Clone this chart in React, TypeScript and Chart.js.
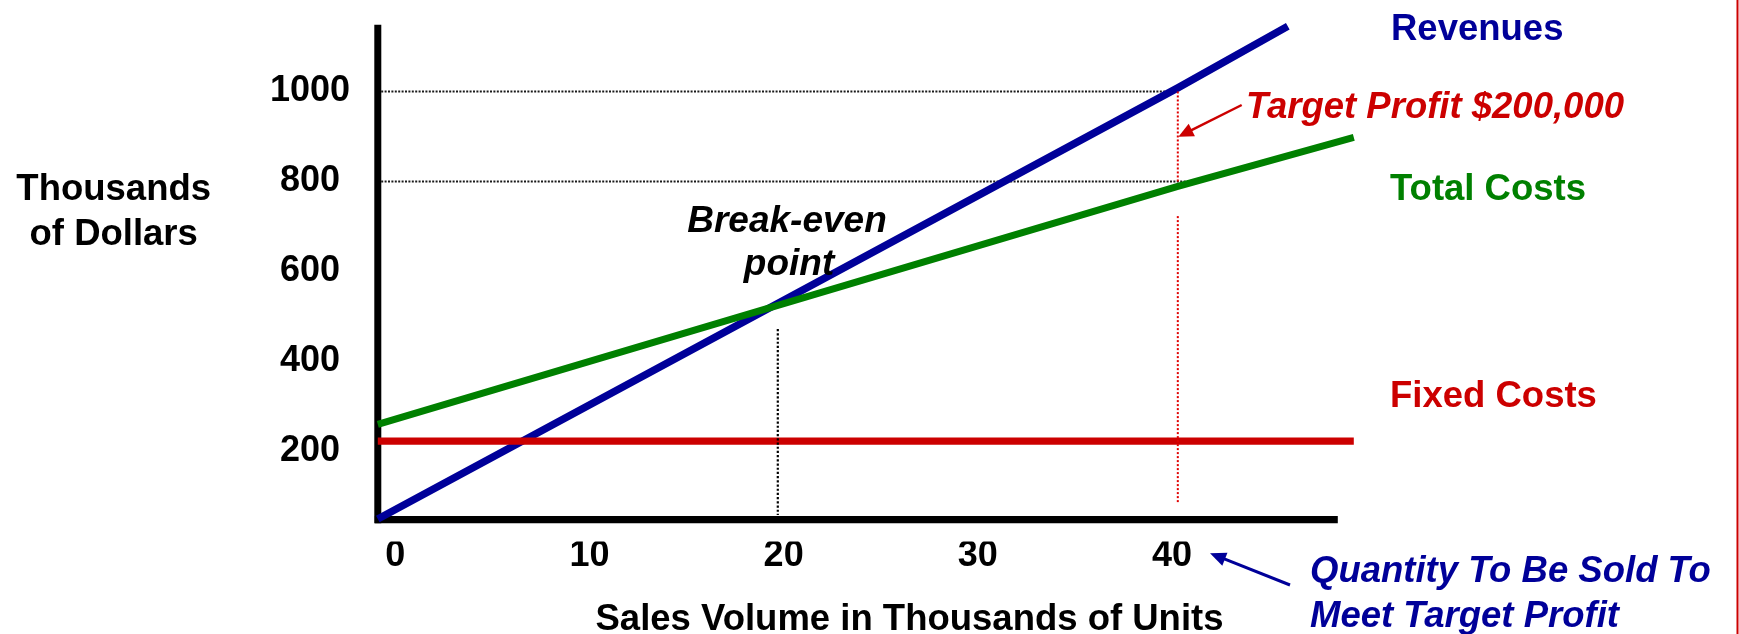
import React, { useEffect, useRef } from 'react';
import { Chart, registerables } from 'chart.js';

Chart.register(...registerables);

// ---- data (sales volume in thousands of units, dollars in thousands) ----
const revenueUnits = [0, 40, 45.5];
const revenueValues = [50, 1008, 1145];
const totalCostUnits = [0, 40, 48.8];
const totalCostValues = [260, 789, 898];
const fixedCostUnits = [0, 48.8];
const fixedCostValues = [223, 223];
const yTickValues = [200, 400, 600, 800, 1000];
const yTickLabels = ['200', '400', '600', '800', '1000'];
const xTickValues = [0, 10, 20, 30, 40];
const xTickLabels = ['0', '10', '20', '30', '40'];
const breakEvenUnits = 20;
const targetUnits = 40;
const targetRevenue = 1000;
const targetTotalCost = 800;
const seriesNames = ['Fixed Costs', 'Total Costs', 'Revenues'];

const FAMILY = "'Liberation Sans', Arial, Helvetica, sans-serif";
const NAVY = '#000099';
const GREEN = '#008000';
const RED = '#cc0000';

function seg(ctx: CanvasRenderingContext2D, x1: number, y1: number, x2: number, y2: number) {
  ctx.beginPath();
  ctx.moveTo(x1, y1);
  ctx.lineTo(x2, y2);
  ctx.stroke();
}

function arrow(
  ctx: CanvasRenderingContext2D,
  x1: number, y1: number, x2: number, y2: number,
  color: string, width: number, headLen: number, headHalf: number
) {
  const dx = x2 - x1;
  const dy = y2 - y1;
  const L = Math.hypot(dx, dy);
  const ux = dx / L;
  const uy = dy / L;
  const bx = x2 - ux * headLen;
  const by = y2 - uy * headLen;
  ctx.setLineDash([]);
  ctx.strokeStyle = color;
  ctx.lineWidth = width;
  ctx.beginPath();
  ctx.moveTo(x1, y1);
  ctx.lineTo(bx + ux * 2, by + uy * 2);
  ctx.stroke();
  ctx.fillStyle = color;
  ctx.beginPath();
  ctx.moveTo(x2, y2);
  ctx.lineTo(bx - uy * headHalf, by + ux * headHalf);
  ctx.lineTo(bx + uy * headHalf, by - ux * headHalf);
  ctx.closePath();
  ctx.fill();
}

function txt(
  ctx: CanvasRenderingContext2D, s: string, x: number, y: number,
  color: string, italic: boolean, align: CanvasTextAlign, size = 36.5
) {
  ctx.font = `${italic ? 'italic ' : ''}bold ${size}px ${FAMILY}`;
  ctx.fillStyle = color;
  ctx.textAlign = align;
  ctx.textBaseline = 'alphabetic';
  ctx.fillText(s, x, y);
}

const guidesPlugin = {
  id: 'guides',
  beforeDatasetsDraw(chart: any) {
    const ctx: CanvasRenderingContext2D = chart.ctx;
    const px = (v: number) => chart.scales.x.getPixelForValue(v);
    const py = (v: number) => chart.scales.y.getPixelForValue(v);
    ctx.save();
    // dotted reference lines at target revenue / target cost
    ctx.strokeStyle = '#1a1a1a';
    ctx.lineWidth = 2;
    ctx.setLineDash([2, 1.4]);
    seg(ctx, px(0), py(targetRevenue), px(targetUnits), py(targetRevenue));
    seg(ctx, px(0), py(targetTotalCost), px(targetUnits + 0.85), py(targetTotalCost));
    // axes
    ctx.setLineDash([]);
    ctx.strokeStyle = '#000';
    ctx.lineCap = 'butt';
    ctx.lineWidth = 7.3;
    const axisY = py(48.4);
    seg(ctx, px(-0.15), axisY, px(48), axisY);
    ctx.lineWidth = 7;
    seg(ctx, px(0), py(1148), px(0), axisY + 3.65);
    ctx.restore();
  },
  afterDatasetsDraw(chart: any) {
    const ctx: CanvasRenderingContext2D = chart.ctx;
    const px = (v: number) => chart.scales.x.getPixelForValue(v);
    const py = (v: number) => chart.scales.y.getPixelForValue(v);
    ctx.save();
    // break-even guide
    ctx.strokeStyle = '#000';
    ctx.lineWidth = 2.2;
    ctx.setLineDash([2.2, 2]);
    seg(ctx, px(breakEvenUnits), py(472), px(breakEvenUnits), py(58.8));
    // target profit guide
    ctx.strokeStyle = '#e00000';
    ctx.lineWidth = 2;
    ctx.setLineDash([2, 2]);
    seg(ctx, px(targetUnits), py(targetRevenue), px(targetUnits), py(targetTotalCost));
    seg(ctx, px(targetUnits), py(723), px(targetUnits), py(84.8));

    // arrows
    arrow(ctx, 1241.7, 105, px(targetUnits) + 0.6, 136.7, RED, 2.5, 15, 7);
    arrow(ctx, 1290, 585, 1210, 553.3, NAVY, 3, 16, 7);

    // labels
    txt(ctx, seriesNames[2], 1391, 39.5, NAVY, false, 'left');
    txt(ctx, seriesNames[1], 1390, 200, GREEN, false, 'left');
    txt(ctx, seriesNames[0], 1390, 407.3, RED, false, 'left');
    txt(ctx, 'Target Profit $200,000', 1246, 118.3, RED, true, 'left');
    txt(ctx, 'Break-even', 787, 231.7, '#000', true, 'center', 37);
    txt(ctx, 'point', 789, 275, '#000', true, 'center', 37);
    txt(ctx, 'Quantity To Be Sold To', 1310, 581.7, NAVY, true, 'left');
    txt(ctx, 'Meet Target Profit', 1310, 626.7, NAVY, true, 'left');
    txt(ctx, 'Sales Volume in Thousands of Units', 909.5, 630, '#000', false, 'center');
    txt(ctx, 'Thousands', 113.7, 200, '#000', false, 'center');
    txt(ctx, 'of Dollars', 113.7, 245, '#000', false, 'center');

    // slide border at the right edge
    ctx.setLineDash([]);
    ctx.strokeStyle = RED;
    ctx.lineWidth = 2;
    seg(ctx, 1737.5, 0, 1737.5, 634);
    ctx.restore();
  },
};

function pts(xs: number[], ys: number[]) {
  return xs.map((x, i) => ({ x, y: ys[i] }));
}

export default function App() {
  const ref = useRef<HTMLCanvasElement | null>(null);

  useEffect(() => {
    if (!ref.current) return;
    const tickFont = { family: FAMILY, weight: 'bold' as const, size: 36 };
    const chart = new Chart(ref.current, {
      type: 'line',
      data: {
        datasets: [
          {
            label: seriesNames[0],
            data: pts(fixedCostUnits, fixedCostValues),
            borderColor: RED,
            borderWidth: 7.3,
            pointRadius: 0,
            clip: false as any,
          },
          {
            label: seriesNames[1],
            data: pts(totalCostUnits, totalCostValues),
            borderColor: GREEN,
            borderWidth: 7,
            pointRadius: 0,
            clip: false as any,
          },
          {
            label: seriesNames[2],
            data: pts(revenueUnits, revenueValues),
            borderColor: NAVY,
            borderWidth: 7.5,
            pointRadius: 0,
            clip: false as any,
          },
        ],
      },
      options: {
        animation: false,
        responsive: false,
        events: [],
        layout: { padding: { left: 0, top: 23.96, right: 301.2, bottom: 32.54 } },
        plugins: {
          legend: { display: false },
          tooltip: { enabled: false },
          title: { display: false },
        },
        elements: { line: { tension: 0, borderCapStyle: 'butt' } },
        scales: {
          x: {
            type: 'linear',
            min: 0,
            max: 53,
            display: false,
          },
          x2: {
            type: 'linear',
            position: 'bottom',
            min: -0.901,
            max: 53.69,
            grid: { display: false, drawTicks: false },
            border: { display: false },
            afterBuildTicks: (s: any) => {
              s.ticks = xTickValues.map((v) => ({ value: v }));
            },
            afterFit: (s: any) => {
              s.height = 60;
              s.paddingLeft = 0;
              s.paddingRight = 0;
            },
            ticks: {
              padding: -6.9,
              color: '#000',
              font: tickFont,
              autoSkip: false,
              maxRotation: 0,
              minRotation: 0,
              callback: (_v: any, i: number) => xTickLabels[i],
            },
          },
          y: {
            type: 'linear',
            min: 0,
            max: 1150,
            grid: { display: false, drawTicks: false },
            border: { display: false },
            afterBuildTicks: (s: any) => {
              s.ticks = yTickValues.map((v) => ({ value: v }));
            },
            afterFit: (s: any) => {
              s.width = 377.8;
              s.paddingTop = 0;
              s.paddingBottom = 0;
            },
            ticks: {
              crossAlign: 'center',
              padding: 27.8,
              color: '#000',
              font: tickFont,
              autoSkip: false,
              callback: (_v: any, i: number) => yTickLabels[i],
            },
          },
        } as any,
      },
      plugins: [guidesPlugin],
    });
    return () => chart.destroy();
  }, []);

  return (
    <div style={{ position: 'absolute', left: 0, top: 0, width: 1739, height: 634, background: '#fff' }}>
      <canvas ref={ref} width={1739} height={634} style={{ display: 'block' }} />
    </div>
  );
}
